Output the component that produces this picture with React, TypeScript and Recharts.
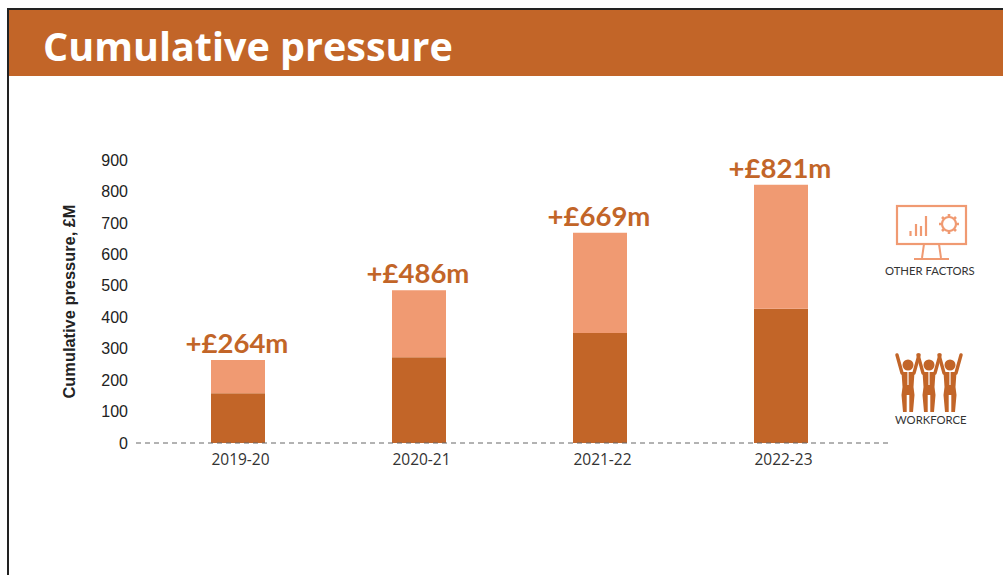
import { BarChart, Bar, XAxis, YAxis, LabelList } from 'recharts';

const categories = ['2019-20', '2020-21', '2021-22', '2022-23'];
const workforce = [158, 273, 350, 427];
const totals = [264, 486, 669, 821];
const yTicks = [0, 100, 200, 300, 400, 500, 600, 700, 800, 900];

const data = categories.map((c, i) => ({
    name: c,
    workforce: workforce[i],
    other: totals[i] - workforce[i],
    total: totals[i],
}));

const DARK = '#C26528';
const LIGHT = '#F09A72';

function MonitorIcon() {
    return (
        <svg width="73" height="58" viewBox="0 0 73 58" style={{ position: 'absolute', left: 895, top: 204 }}>
            <rect x="2" y="2" width="69" height="38" fill="none" stroke={LIGHT} strokeWidth="2.2" />
            <path d="M29 40 L27 54 M44 40 L46 54 M19 55 H54" stroke={LIGHT} strokeWidth="2" fill="none" />
            <path d="M15.5 32 V27 M21 32 V20 M26 32 V22 M31 32 V12" stroke={LIGHT} strokeWidth="2.2" fill="none" />
            <path d="M54 10 V30 M44 20 H64 M47 13 L61 27 M61 13 L47 27" stroke={LIGHT} strokeWidth="2.6" fill="none" />
            <circle cx="54" cy="20" r="7" fill="#fff" stroke={LIGHT} strokeWidth="2.2" />
        </svg>
    );
}

function Person({ x }: { x: number }) {
    return (
        <g transform={`translate(${x} 0)`}>
            <circle cx="13" cy="12" r="5.5" fill={DARK} />
            <path d="M2 2 L7 20 M24 2 L19 20" fill="none" stroke={DARK} strokeWidth="3.4" strokeLinecap="round" />
            <path d="M6.5 19 H19.5 L18.5 34 L19.5 42 L18 59 H14.3 V42 H11.7 V59 H8 L6.5 42 L7.5 34 Z" fill={DARK} />
            <path d="M13 19 V32" stroke="#fff" strokeWidth="1.2" />
        </g>
    );
}

function PeopleIcon() {
    return (
        <svg width="72" height="62" viewBox="0 0 72 62" style={{ position: 'absolute', left: 895, top: 353 }}>
            <Person x={0} />
            <Person x={21} />
            <Person x={42} />
        </svg>
    );
}

const iconLabel: React.CSSProperties = {
    position: 'absolute',
    fontFamily: 'Lato',
    fontSize: 11.3,
    color: '#333',
    whiteSpace: 'nowrap',
};

export default function App() {
    return (
        <div style={{ position: 'absolute', left: 0, top: 0, width: 1003, height: 575, background: '#fff', overflow: 'hidden' }}>
            <div style={{ position: 'absolute', left: 7, top: 8, width: 996, height: 567, borderLeft: '2px solid #222', borderTop: '2px solid #222', boxSizing: 'border-box' }} />
            <div style={{ position: 'absolute', left: 9, top: 10, width: 994, height: 66, background: DARK }}>
                <div style={{ position: 'absolute', left: 34, top: 12, fontFamily: 'Open Sans', fontWeight: 700, fontSize: 39.5, lineHeight: '48px', color: '#fff', whiteSpace: 'nowrap' }}>
                    Cumulative pressure
                </div>
            </div>
            <div style={{ position: 'absolute', left: 0, top: 0 }}>
                <BarChart width={1003} height={575} data={data} margin={{ top: 160, right: 111, bottom: 101, left: 0 }} barSize={54} barGap={0}>
                    <XAxis
                        dataKey="name"
                        padding={{ left: 11, right: 21 }}
                        height={31}
                        tickLine={false}
                        axisLine={{ stroke: '#666', strokeDasharray: '5 4' }}
                        tick={{ fontFamily: 'Open Sans', fontSize: 15.5, fill: '#333', dx: 3 }}
                        tickMargin={5}
                    />
                    <YAxis
                        width={136}
                        domain={[0, 900]}
                        ticks={yTicks}
                        interval={0}
                        tickLine={false}
                        axisLine={false}
                        tickMargin={2}
                        tick={{ fontFamily: 'Liberation Sans', fontSize: 16, fill: '#222' }}
                        label={{ value: 'Cumulative pressure, £M', angle: -90, position: 'insideLeft', offset: 69, dy: 97, style: { fontFamily: 'Liberation Sans', fontWeight: 700, fontSize: 16.4, fill: '#222' } }}
                    />
                    <Bar dataKey="workforce" stackId="a" fill={DARK} isAnimationActive={false} />
                    <Bar dataKey="other" stackId="a" fill={LIGHT} isAnimationActive={false}>
                        <LabelList dataKey="total" position="top" offset={7} formatter={(v: any) => `+£${v}m`} style={{ fontFamily: 'Lato', fontWeight: 700, fontSize: 27.5, fill: DARK, transform: 'translateX(-1px)' }} />
                    </Bar>
                </BarChart>
            </div>
            <MonitorIcon />
            <div style={{ ...iconLabel, left: 885, top: 264 }}>OTHER FACTORS</div>
            <PeopleIcon />
            <div style={{ ...iconLabel, left: 895, top: 413 }}>WORKFORCE</div>
        </div>
    );
}
